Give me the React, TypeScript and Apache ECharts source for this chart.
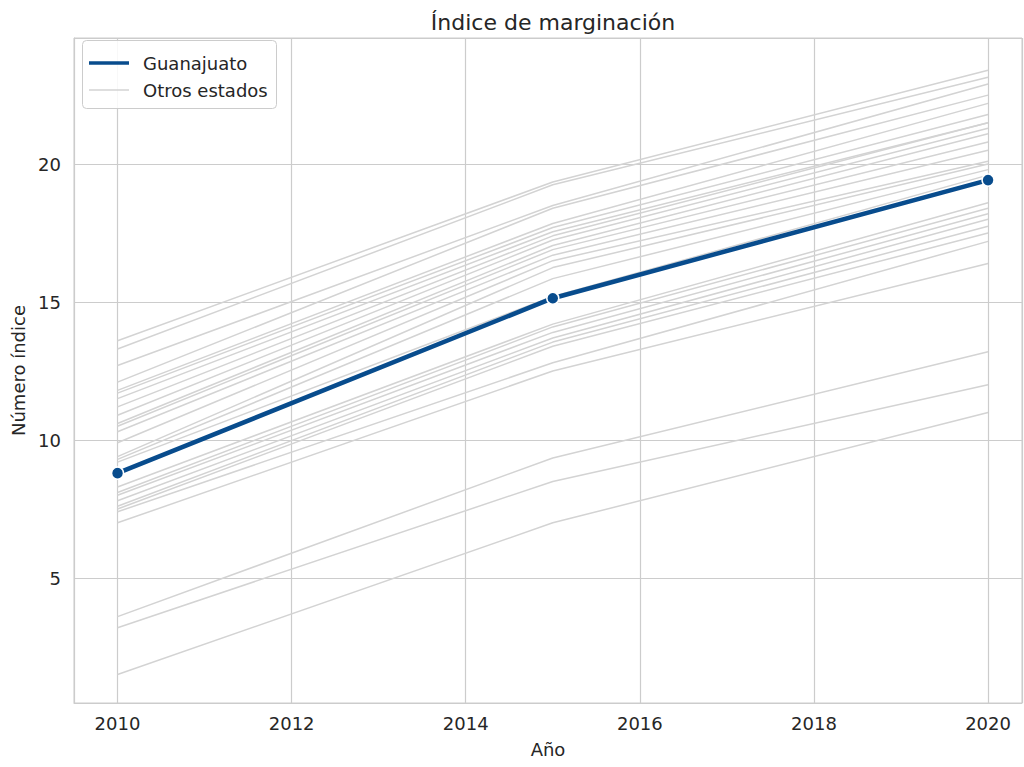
import React, { useEffect, useRef } from "react";
import * as echarts from "echarts";

const years = [2010, 2015, 2020];
const guanajuato = [8.8, 15.14, 19.42];

const otros2010 = [13.6, 13.3, 12.7, 12.1, 11.8, 11.7, 11.5, 11.2, 10.9, 10.6, 10.5, 10.3, 9.9, 9.4, 9.3, 9.2,
  8.3, 8.1, 8.0, 7.8, 7.6, 7.5, 7.4, 7.0, 3.6, 3.2, 1.5];
const otros2015 = [19.35, 19.25, 18.5, 18.4, 17.85, 17.7, 17.55, 17.4, 17.25, 17.05, 16.9, 16.7, 16.5, 16.25, 15.85, 15.2,
  14.2, 14.1, 13.9, 13.7, 13.55, 13.4, 12.8, 12.5, 9.35, 8.5, 7.0];
const otros2020 = [23.4, 23.15, 22.9, 22.5, 22.2, 21.8, 21.5, 21.5, 21.3, 21.1, 20.8, 20.5, 20.1, 20.0, 19.8, 19.6,
  18.6, 18.4, 18.2, 18.0, 17.75, 17.5, 17.2, 16.4, 13.2, 12.0, 11.0];

const titleText = "Índice de marginación";
const xName = "Año";
const yName = "Número índice";
const legendNames = ["Guanajuato", "Otros estados"];

const BLUE = "#084c8d";
const GREY = "#d3d3d3";
const FONT = "DejaVu Sans";
const TEXT = "#262626";

export default function App() {
  const ref = useRef<HTMLDivElement>(null);
  useEffect(() => {
    if (!ref.current) return;
    const chart = echarts.init(ref.current, undefined, { renderer: "svg" });
    const cols = [otros2010, otros2015, otros2020];
    const otherSeries = otros2010.map((_, i) => ({
      type: "line",
      name: legendNames[1],
      data: years.map((y, j) => [y, cols[j][i]]),
      symbol: "none",
      lineStyle: { color: GREY, width: 1.5 },
      itemStyle: { color: GREY },
      z: 2,
      silent: true,
    }));
    chart.setOption({
      animation: false,
      backgroundColor: "#ffffff",
      textStyle: { fontFamily: FONT },
      title: {
        text: titleText,
        left: 548,
        top: 6,
        textAlign: "center",
        textStyle: { fontFamily: FONT, fontSize: 22, fontWeight: "normal", color: TEXT },
      },
      grid: {
        left: 74,
        right: 2,
        top: 38,
        bottom: 64,
        show: true,
        borderColor: "#cccccc",
        borderWidth: 1,
      },
      xAxis: {
        type: "value",
        min: 2009.5,
        max: 2020.39,
        name: xName,
        nameLocation: "middle",
        nameGap: 37,
        nameTextStyle: { fontFamily: FONT, fontSize: 18, color: TEXT },
        axisLine: { show: true, lineStyle: { color: "#cccccc" } },
        axisTick: { show: false },
        axisLabel: {
          showMinLabel: false,
          showMaxLabel: false,
          fontFamily: FONT,
          fontSize: 18,
          color: TEXT,
          margin: 11,
          formatter: (v: number) => String(v),
        },
        splitLine: { show: true, lineStyle: { color: "#cccccc", width: 1.2 } },
      },
      yAxis: {
        type: "value",
        min: 0.47,
        max: 24.57,
        name: yName,
        nameLocation: "middle",
        nameGap: 46,
        nameTextStyle: { fontFamily: FONT, fontSize: 18, color: TEXT },
        axisLine: { show: true, lineStyle: { color: "#cccccc" } },
        axisTick: { show: false },
        axisLabel: {
          showMinLabel: false,
          showMaxLabel: false,
          fontFamily: FONT,
          fontSize: 18,
          color: TEXT,
          margin: 13,
        },
        splitLine: { show: true, lineStyle: { color: "#cccccc", width: 1.2 } },
      },
      series: [
        ...otherSeries,
        {
          type: "line",
          name: legendNames[0],
          data: years.map((y, j) => [y, guanajuato[j]]),
          symbol: "circle",
          symbolSize: 12,
          lineStyle: { color: BLUE, width: 4.5 },
          itemStyle: { color: BLUE, borderColor: "#ffffff", borderWidth: 1.5 },
          z: 5,
        },
      ],
      graphic: [
        {
          type: "rect",
          left: 82,
          top: 40,
          shape: { width: 194, height: 68, r: 4 },
          style: { fill: "rgba(255,255,255,0.85)", stroke: "#cccccc", lineWidth: 1 },
          z: 10,
        },
        {
          type: "line",
          shape: { x1: 89, y1: 63, x2: 129, y2: 63 },
          style: { stroke: BLUE, lineWidth: 3.5 },
          z: 11,
        },
        {
          type: "line",
          shape: { x1: 89, y1: 90, x2: 129, y2: 90 },
          style: { stroke: GREY, lineWidth: 1.5 },
          z: 11,
        },
        {
          type: "text",
          x: 143,
          y: 63,
          style: { text: legendNames[0], fontFamily: FONT, fontSize: 18, fill: TEXT, verticalAlign: "middle" },
          z: 11,
        },
        {
          type: "text",
          x: 143,
          y: 90,
          style: { text: legendNames[1], fontFamily: FONT, fontSize: 18, fill: TEXT, verticalAlign: "middle" },
          z: 11,
        },
      ],
    });
    return () => chart.dispose();
  }, []);
  return (
    <div
      ref={ref}
      style={{ position: "fixed", left: 0, top: 0, width: 1024, height: 767 }}
    />
  );
}
